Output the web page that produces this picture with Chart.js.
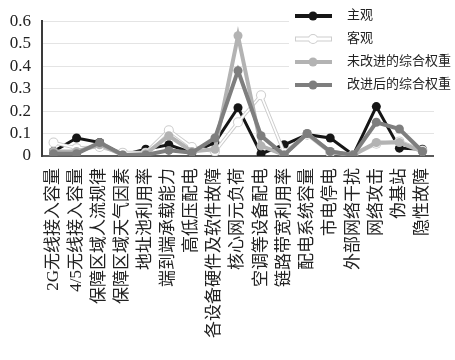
<!DOCTYPE html>
<html>
<head>
<meta charset="utf-8">
<script src="https://cdn.jsdelivr.net/npm/chart.js@4.4.1/dist/chart.umd.min.js"></script>
<style>
  html, body { margin: 0; padding: 0; background: #fff; }
  canvas { display: block; }
  .probe { position: absolute; left: -999px; top: 0; font-family: 'Liberation Serif'; }
</style>
</head>
<body>
<span class="probe">0.123456789 2G 4/5</span>
<canvas id="chart" width="455" height="360"></canvas>
<script>
// Categories (risk factors)
const categories = [
    '2G无线接入容量', '4/5无线接入容量', '保障区域人流规律', '保障区域天气因素',
    '地址池利用率', '端到端承载能力', '高低压配电', '各设备硬件及软件故障',
    '核心网元负荷', '空调等设备配电', '链路带宽利用率', '配电系统容量',
    '市电停电', '外部网络干扰', '网络攻击', '伪基站', '隐性故障'
];

// Series values
const subjective = [0.02, 0.08, 0.06, 0.005, 0.03, 0.05, 0.015, 0.06, 0.215, 0.01, 0.05, 0.095, 0.08, 0.005, 0.22, 0.035, 0.03];
const objective  = [0.06, 0.035, 0.04, 0.015, 0.015, 0.115, 0.04, 0.02, 0.15, 0.27, 0.015, 0.095, 0.015, 0.005, 0.055, 0.065, 0.025];
const unimproved = [0.02, 0.02, 0.05, 0.005, 0.01, 0.09, 0.02, 0.03, 0.535, 0.045, 0.005, 0.1, 0.02, 0.005, 0.06, 0.06, 0.02];
const improved   = [0.01, 0.01, 0.06, 0.005, 0.005, 0.025, 0.015, 0.08, 0.38, 0.09, 0.005, 0.1, 0.02, 0.005, 0.15, 0.12, 0.02];

const seriesNames = ['主观', '客观', '未改进的综合权重', '改进后的综合权重'];
const yTicks = [0, 0.1, 0.2, 0.3, 0.4, 0.5, 0.6];

const BLACK = '#161616';
const LIGHT = '#b3b3b3';
const DARK = '#7e7e7e';
const OUTLINE = '#cdcdcd';
const SERIF = "'Liberation Serif', 'Times New Roman', 'DejaVu Serif', 'Noto Sans CJK SC', serif";

// Legend drawn inside the plot, top right, on a white box
const legendBox = {
    id: 'legendBox',
    afterDraw(chart) {
        const ctx = chart.ctx;
        ctx.save();
        ctx.fillStyle = '#fff';
        ctx.fillRect(289, 3, 166, 94);
        const styles = [
            { color: BLACK },
            { color: '#fff', outline: OUTLINE },
            { color: LIGHT },
            { color: DARK }
        ];
        seriesNames.forEach((name, i) => {
            const y = 16 + i * 23;
            const s = styles[i];
            ctx.lineCap = 'butt';
            if (s.outline) {
                ctx.strokeStyle = s.outline;
                ctx.lineWidth = 5;
                ctx.beginPath(); ctx.moveTo(295, y); ctx.lineTo(332, y); ctx.stroke();
                ctx.fillStyle = s.outline;
                ctx.beginPath(); ctx.arc(313, y, 5, 0, Math.PI * 2); ctx.fill();
            }
            ctx.strokeStyle = s.color;
            ctx.lineWidth = s.outline ? 3 : 4;
            ctx.beginPath(); ctx.moveTo(s.outline ? 296 : 295, y); ctx.lineTo(s.outline ? 331 : 332, y); ctx.stroke();
            ctx.fillStyle = s.color;
            ctx.beginPath(); ctx.arc(313, y, s.outline ? 4 : 4.5, 0, Math.PI * 2); ctx.fill();

            ctx.fillStyle = '#222';
            ctx.font = '13px ' + SERIF;
            ctx.textBaseline = 'middle';
            ctx.textAlign = 'left';
            ctx.fillText(name, 347, y);
        });
        ctx.restore();
    }
};

function initChart() {
    const ctx = document.getElementById('chart').getContext('2d');

    new Chart(ctx, {
        type: 'line',
        data: {
            labels: categories,
            datasets: [
                {
                    label: seriesNames[3],
                    data: improved,
                    borderColor: DARK,
                    backgroundColor: DARK,
                    borderWidth: 4,
                    pointRadius: 4.5,
                    pointBorderWidth: 0,
                    order: 0
                },
                {
                    label: seriesNames[2],
                    data: unimproved,
                    borderColor: LIGHT,
                    backgroundColor: LIGHT,
                    borderWidth: 4,
                    pointRadius: 4.5,
                    pointBorderWidth: 0,
                    order: 1
                },
                {
                    label: seriesNames[1],
                    data: objective,
                    borderColor: '#fff',
                    backgroundColor: '#fff',
                    borderWidth: 1.6,
                    pointRadius: 4,
                    pointBorderWidth: 0,
                    order: 2
                },
                {
                    label: seriesNames[1] + ' outline',
                    data: objective,
                    borderColor: OUTLINE,
                    backgroundColor: OUTLINE,
                    borderWidth: 3.6,
                    pointRadius: 5,
                    pointBorderWidth: 0,
                    order: 3
                },
                {
                    label: seriesNames[0],
                    data: subjective,
                    borderColor: BLACK,
                    backgroundColor: BLACK,
                    borderWidth: 3,
                    pointRadius: 4.5,
                    pointBorderWidth: 0,
                    order: 4
                }
            ]
        },
        options: {
            responsive: false,
            animation: false,
            layout: { padding: { top: 13, right: 0, left: 0, bottom: 0 } },
            elements: { line: { tension: 0 } },
            scales: {
                x: {
                    offset: true,
                    grid: { display: false, drawTicks: false },
                    border: { display: true, color: '#5a5a5a', width: 2 },
                    ticks: {
                        autoSkip: false,
                        minRotation: 90,
                        maxRotation: 90,
                        padding: 12,
                        color: '#222',
                        font: { family: SERIF, size: 17 }
                    },
                    afterFit: (scale) => { scale.height = 204; }
                },
                y: {
                    min: yTicks[0],
                    max: yTicks[yTicks.length - 1],
                    grid: { color: '#e4e4e4', lineWidth: 1, drawTicks: false },
                    border: { display: true, color: '#3a3a3a', width: 2 },
                    afterBuildTicks: (scale) => { scale.ticks = yTicks.map(v => ({ value: v })); },
                    ticks: {
                        autoSkip: false,
                        padding: 11,
                        color: '#222',
                        font: { family: SERIF, size: 17 }
                    },
                    afterFit: (scale) => { scale.width = 42; }
                }
            },
            plugins: {
                legend: { display: false },
                tooltip: { enabled: false }
            }
        },
        plugins: [legendBox]
    });
}

document.addEventListener('DOMContentLoaded', function() {
    const loads = [
        document.fonts.load("17px 'Liberation Serif'"),
        document.fonts.load("17px 'Noto Sans CJK SC'", '主观')
    ];
    Promise.all(loads).catch(() => {}).then(initChart);
});
</script>
</body>
</html>
